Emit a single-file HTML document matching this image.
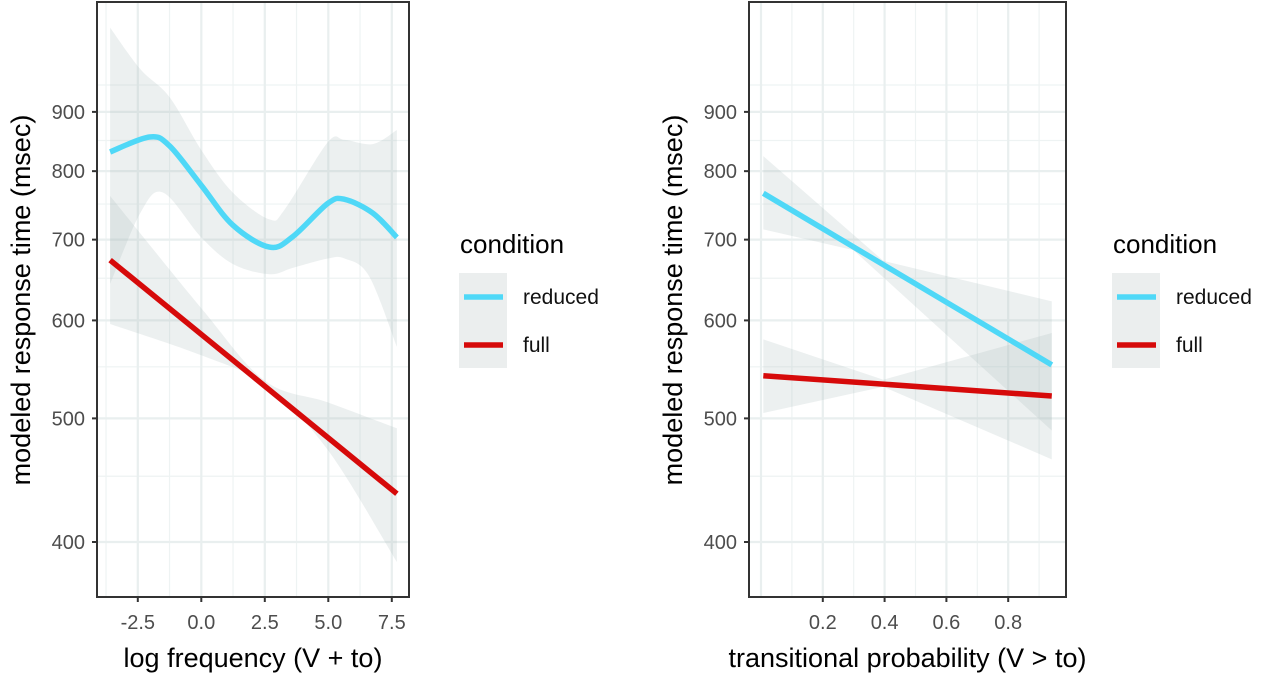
<!DOCTYPE html>
<html><head><meta charset="utf-8"><style>
html,body{margin:0;padding:0;background:#fff;}
svg{display:block;font-family:"Liberation Sans",Arial,sans-serif;}
</style></head><body>
<svg id="chart" width="1280" height="673" viewBox="0 0 1280 673"></svg>
<script>
// ---- data ----
const yTicks = [400, 500, 600, 700, 800, 900];
const yMinor = [450, 550, 650, 750, 850, 950];
const leftXTicks = [-2.5, 0, 2.5, 5, 7.5];
const leftXTickLabels = ["-2.5", "0.0", "2.5", "5.0", "7.5"];
const rightXTicks = [0.2, 0.4, 0.6, 0.8];
const rightXTickLabels = ["0.2", "0.4", "0.6", "0.8"];

const redX = [-3.59, -2.04, -1.25, 0, 1.24, 2.68, 3.60, 4.98, 5.64, 6.75, 7.70];
const redVal = [831, 856, 841, 778, 720, 690, 704, 751, 757, 737, 703];
const redBandX = [-3.59, -2.4, -1.25, 0, 1.24, 2.68, 3.3, 4.98, 5.64, 6.75, 7.70];
const redUpper = [1068, 981, 927, 834, 767, 728, 743, 847, 851, 844, 868];
const redLowerX = [-3.59, -2.4, -1.5, 0, 1.24, 2.68, 3.6, 4.98, 5.64, 6.6, 7.70];
const redLower = [643, 737, 767, 703, 668, 655, 663, 675, 675, 653, 571];

const fullX = [-3.59, 7.70];
const fullVal = [673, 436];
const fullBandX = [-3.59, 0, 2.5, 4.98, 7.70];
const fullUpper = [762, 614, 536, 515, 491];
const fullLower = [596, 562, 532, 472, 386];

const tpX = [0.0075, 0.941];
const tpRedVal = [766, 552];
const tpRedUpperX = [0.0075, 0.396, 0.941];
const tpRedUpper = [824, 672, 622];
const tpRedLowerX = [0.0075, 0.299, 0.941];
const tpRedLower = [714, 686, 489];
const tpFullVal = [541, 521];
const tpFullBandX = [0.0075, 0.396, 0.941];
const tpFullUpper = [579, 537, 586];
const tpFullLower = [505, 530, 464];

// ---- scales ----
function yS(v){ return 542 - (0.40709 - Math.pow(v, -0.15)) * 9225; }
function xL(v){ return 201.3 + v * 25.4; }
function xR(v){ return 761 + v * 309; }

const NS = "http://www.w3.org/2000/svg";
const svg = document.getElementById("chart");
function mk(tag, attrs, parent){
  const e = document.createElementNS(NS, tag);
  for (const k in attrs) e.setAttribute(k, attrs[k]);
  (parent || svg).appendChild(e);
  return e;
}
function smooth(pts){
  let d = "M" + pts[0][0] + "," + pts[0][1];
  for (let i = 0; i < pts.length - 1; i++){
    const p0 = pts[Math.max(0,i-1)], p1 = pts[i], p2 = pts[i+1], p3 = pts[Math.min(pts.length-1,i+2)];
    const c1 = [p1[0] + (p2[0]-p0[0])/6, p1[1] + (p2[1]-p0[1])/6];
    const c2 = [p2[0] - (p3[0]-p1[0])/6, p2[1] - (p3[1]-p1[1])/6];
    d += " C" + c1[0] + "," + c1[1] + " " + c2[0] + "," + c2[1] + " " + p2[0] + "," + p2[1];
  }
  return d;
}
function pts(xs, vs, xf){ return xs.map((x,i)=>[xf(x), yS(vs[i])]); }
function bandPath(ux, uv, lx, lv, xf){
  const up = pts(ux, uv, xf);
  const lo = pts(lx, lv, xf).reverse();
  let d = smooth(up);
  d += " L" + lo[0][0] + "," + lo[0][1] + smooth(lo).replace(/^M[^ C]+/, "");
  return d + " Z";
}

function panel(cfg){
  const g = mk("g", {});
  
  
  const L = cfg.left, R = cfg.right, T = 2, B = 597;
  cfg.xMinor.forEach(v=>{
    const x = cfg.xf(v);
    const l = mk("line", {x1:x, x2:x, y1:T, y2:B, stroke:"#eef3f3", "stroke-width":1.2}, g);
    
    
  });
  yMinor.forEach(v=>{
    const y = yS(v);
    const l = mk("line", {x1:L, x2:R, y1:y, y2:y, stroke:"#eef3f3", "stroke-width":1.2}, g);
    
    
  });
  cfg.xMajor.forEach(v=>{
    const x = cfg.xf(v);
    const l = mk("line", {x1:x, x2:x, y1:T, y2:B, stroke:"#e9efef", "stroke-width":2.2}, g);
    
    
  });
  yTicks.forEach(v=>{
    const y = yS(v);
    const l = mk("line", {x1:L, x2:R, y1:y, y2:y, stroke:"#e9efef", "stroke-width":2.2}, g);
    
    
  });
  cfg.draw(g);
  const bd = mk("rect", {x:L, y:T, width:R-L, height:B-T, fill:"none", stroke:"#333", "stroke-width":2}, g);
  
  
  yTicks.forEach(v=>{
    const y = yS(v);
    const t = mk("line", {x1:L-5, x2:L, y1:y, y2:y, stroke:"#333", "stroke-width":2}, g);
    
    
    const tx = mk("text", {x:L-12, y:y+7, "text-anchor":"end", "font-size":20, fill:"#4d4d4d"}, g);
    tx.textContent = v;
    
    
  });
  cfg.xTicks.forEach((v,i)=>{
    const x = cfg.xf(v);
    const t = mk("line", {x1:x, x2:x, y1:B, y2:B+5, stroke:"#333", "stroke-width":2}, g);
    
    
    const tx = mk("text", {x:x, y:629, "text-anchor":"middle", "font-size":20, fill:"#4d4d4d"}, g);
    tx.textContent = cfg.xLabels[i];
    
    
  });
  const xt = mk("text", {x:(L+R)/2, y:667, "text-anchor":"middle", "font-size":27, fill:"#000"}, g);
  xt.textContent = cfg.xTitle;
  
  
  const yt = mk("text", {x:0, y:0, "text-anchor":"middle", "font-size":27, fill:"#000", transform:"translate("+(L-67)+",300) rotate(-90)"}, g);
  yt.textContent = "modeled response time (msec)";
  
  
  const lx = cfg.legendX;
  const lt = mk("text", {x:lx, y:253, "font-size":26, fill:"#000"}, g);
  lt.textContent = "condition";
  
  
  const kb = mk("rect", {x:lx-1, y:273, width:48, height:95, fill:"#ebeeee"}, g);
  
  
  [["reduced","#4fd8f7",297],["full","#d60a0a",345]].forEach(e=>{
    const k = mk("line", {x1:lx+4, x2:lx+43, y1:e[2], y2:e[2], stroke:e[1], "stroke-width":5.5}, g);
    
    
    const t = mk("text", {x:lx+63, y:e[2]+7, "font-size":21, fill:"#111"}, g);
    t.textContent = e[0];
    
    
  });
}

const bandFill = "rgba(170,185,185,0.22)";
panel({
  name:"left-panel", left:97, right:409, xf:xL,
  xMajor:leftXTicks, xMinor:[-3.75,-1.25,1.25,3.75,6.25],
  xTicks:leftXTicks, xLabels:leftXTickLabels, xTitle:"log frequency (V + to)", legendX:460,
  draw:function(g){
    const b1 = mk("path", {d:bandPath(redBandX, redUpper, redLowerX, redLower, xL), fill:bandFill}, g);
    
    
    const b2 = mk("path", {d:bandPath(fullBandX, fullUpper, fullBandX, fullLower, xL), fill:bandFill}, g);
    
    
    const l1 = mk("path", {d:smooth(pts(redX, redVal, xL)), fill:"none", stroke:"#4fd8f7", "stroke-width":5.5}, g);
    
    
    const l2 = mk("path", {d:smooth(pts(fullX, fullVal, xL)), fill:"none", stroke:"#d60a0a", "stroke-width":5.5}, g);
    
    
  }
});
panel({
  name:"right-panel", left:749, right:1066, xf:xR,
  xMajor:[0,0.2,0.4,0.6,0.8], xMinor:[0.1,0.3,0.5,0.7,0.9],
  xTicks:rightXTicks, xLabels:rightXTickLabels, xTitle:"transitional probability (V > to)", legendX:1113,
  draw:function(g){
    const lin = (xs,vs)=>{ const p = pts(xs,vs,xR); return "M" + p.map(q=>q.join(",")).join(" L"); };
    const band = (ux,uv,lx,lv)=>{ const u = pts(ux,uv,xR), l = pts(lx,lv,xR).reverse(); return "M" + u.concat(l).map(q=>q.join(",")).join(" L") + " Z"; };
    const b1 = mk("path", {d:band(tpRedUpperX, tpRedUpper, tpRedLowerX, tpRedLower), fill:bandFill}, g);
    
    
    const b2 = mk("path", {d:band(tpFullBandX, tpFullUpper, tpFullBandX, tpFullLower), fill:bandFill}, g);
    
    
    const l1 = mk("path", {d:lin(tpX, tpRedVal), fill:"none", stroke:"#4fd8f7", "stroke-width":5.5}, g);
    
    
    const l2 = mk("path", {d:lin(tpX, tpFullVal), fill:"none", stroke:"#d60a0a", "stroke-width":5.5}, g);
    
    
  }
});
</script>
</body></html>
